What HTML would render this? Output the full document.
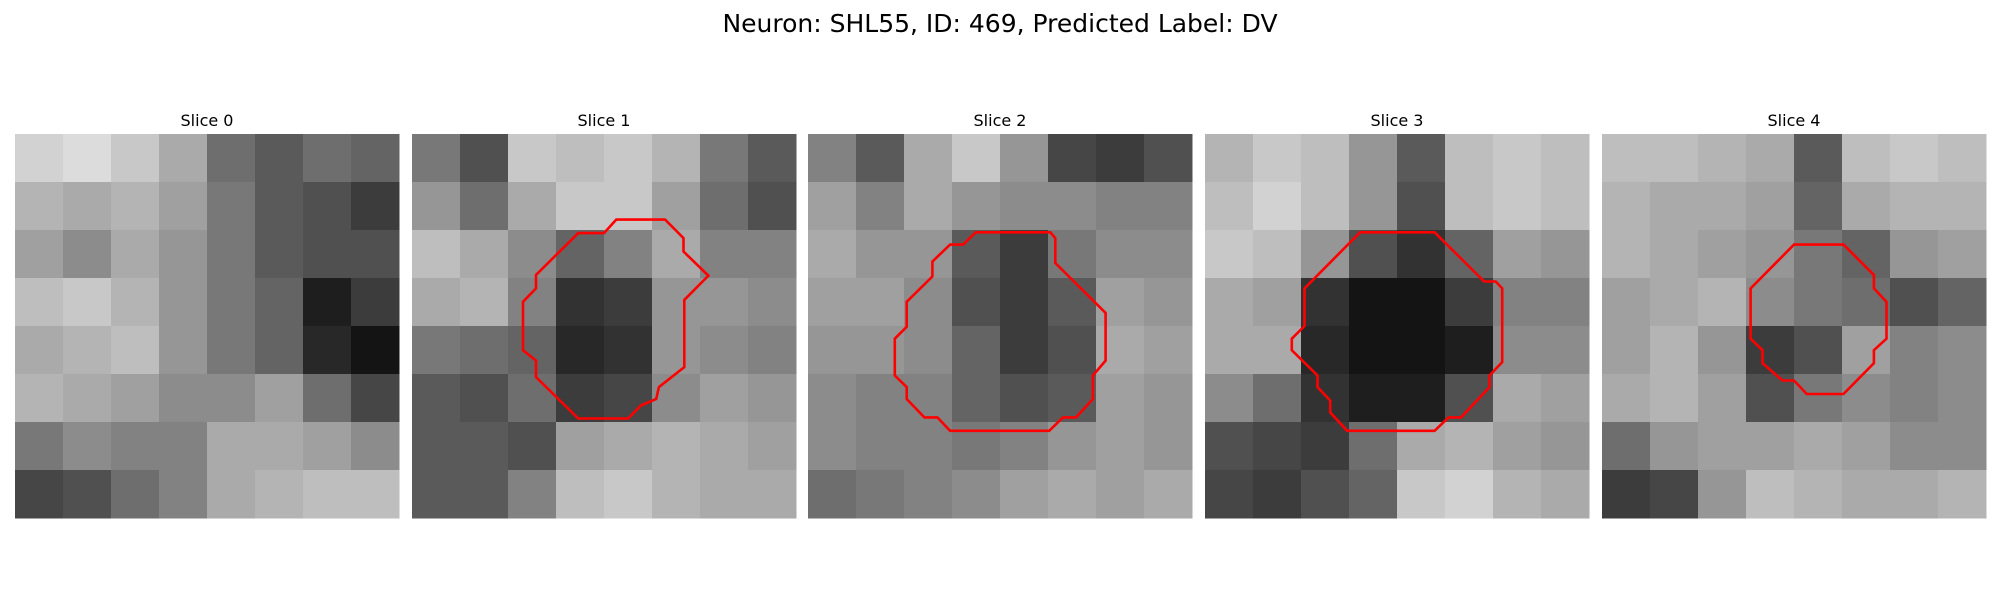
<!DOCTYPE html>
<html><head><meta charset="utf-8">
<style>
html,body{margin:0;padding:0;background:#fff;}
#wrap{position:relative;width:2000px;height:600px;overflow:hidden;}
svg{position:absolute;left:0;top:0;}
text{font-family:"DejaVu Sans","Liberation Sans",sans-serif;fill:#000;}
</style></head>
<body>
<div id="wrap">
<svg id="fig" width="2000" height="600" viewBox="0 0 2000 600" shape-rendering="crispEdges">
<text x="1000" y="32" text-anchor="middle" font-size="25">Neuron: SHL55, ID: 469, Predicted Label: DV</text>
</svg>
</div>
<script>
const sliceTitles = ["Slice 0","Slice 1","Slice 2","Slice 3","Slice 4"];
const slice0 = [
[210,220,200,170,110,90,110,100],
[180,170,180,160,120,90,80,60],
[160,140,170,150,120,90,80,80],
[190,200,180,150,120,100,30,60],
[170,180,190,150,120,100,40,20],
[180,170,160,140,140,160,110,70],
[120,140,130,130,170,170,160,140],
[70,80,110,130,170,180,190,190]];
const slice1 = [
[120,80,200,190,200,180,120,90],
[150,110,170,200,200,160,110,80],
[190,170,140,100,130,170,130,130],
[170,180,130,50,60,150,150,140],
[120,110,100,40,50,150,140,130],
[90,80,110,60,70,140,160,150],
[90,90,80,160,170,180,170,160],
[90,90,130,190,200,180,170,170]];
const slice2 = [
[130,90,170,200,150,70,60,80],
[160,130,170,150,140,140,130,130],
[170,150,150,90,60,120,140,140],
[160,160,140,80,60,90,160,150],
[150,150,140,100,60,80,170,160],
[140,130,130,100,80,90,160,150],
[140,130,130,120,130,150,160,150],
[110,120,130,140,160,170,160,170]];
const slice3 = [
[180,200,190,150,90,190,200,190],
[190,210,190,150,80,190,200,190],
[200,190,150,80,50,100,160,150],
[170,160,50,20,20,60,130,130],
[170,170,40,20,20,30,140,140],
[140,110,50,30,30,80,170,160],
[80,70,60,110,170,180,160,150],
[70,60,80,100,200,210,180,170]];
const slice4 = [
[190,190,180,170,90,190,200,190],
[180,170,170,160,100,170,180,180],
[180,170,160,150,120,100,150,160],
[160,170,180,140,120,110,80,100],
[160,180,150,60,80,160,130,140],
[170,180,160,80,120,140,130,140],
[110,150,160,160,170,160,140,140],
[60,70,150,190,180,170,170,180]];
const contour1 = [[0.532,0.223],[0.659,0.223],[0.707,0.271],[0.707,0.306],[0.772,0.369],[0.709,0.432],[0.709,0.607],[0.643,0.659],[0.636,0.690],[0.596,0.707],[0.563,0.741],[0.433,0.741],[0.323,0.633],[0.323,0.590],[0.289,0.563],[0.289,0.437],[0.323,0.402],[0.323,0.367],[0.433,0.258],[0.500,0.258]];
const contour2 = [[0.437,0.256],[0.631,0.256],[0.644,0.271],[0.644,0.336],[0.775,0.466],[0.775,0.590],[0.742,0.629],[0.742,0.690],[0.698,0.738],[0.664,0.738],[0.628,0.773],[0.370,0.773],[0.337,0.738],[0.303,0.738],[0.257,0.690],[0.257,0.659],[0.226,0.629],[0.226,0.533],[0.257,0.502],[0.257,0.437],[0.324,0.371],[0.324,0.332],[0.370,0.288],[0.404,0.288]];
const contour3 = [[0.404,0.256],[0.598,0.256],[0.727,0.384],[0.757,0.384],[0.774,0.402],[0.774,0.594],[0.741,0.629],[0.741,0.659],[0.667,0.738],[0.634,0.738],[0.598,0.773],[0.370,0.773],[0.326,0.725],[0.326,0.694],[0.293,0.659],[0.293,0.629],[0.226,0.563],[0.226,0.533],[0.259,0.500],[0.259,0.402]];
const contour4 = [[0.500,0.288],[0.629,0.288],[0.708,0.367],[0.708,0.402],[0.741,0.437],[0.741,0.533],[0.708,0.563],[0.708,0.597],[0.629,0.677],[0.533,0.677],[0.500,0.642],[0.470,0.642],[0.418,0.597],[0.418,0.563],[0.387,0.533],[0.387,0.402]];

const grids = [slice0,slice1,slice2,slice3,slice4];
const contours = [null,contour1,contour2,contour3,contour4];
const NS='http://www.w3.org/2000/svg';
const svg=document.getElementById('fig');
const panelX=[15,412,808,1205,1602], panelY=134, panelS=384;
grids.forEach((g,i)=>{
  const gEl=document.createElementNS(NS,'g');
  
  
  const n=g.length, cs=panelS/n;
  g.forEach((row,r)=>row.forEach((v,c)=>{
    const rc=document.createElementNS(NS,'rect');
    
    
    rc.setAttribute('x',panelX[i]+c*cs);
    rc.setAttribute('y',panelY+r*cs);
    rc.setAttribute('width',cs+0.5);
    rc.setAttribute('height',cs+0.5);
    rc.setAttribute('fill',`rgb(${v},${v},${v})`);
    gEl.appendChild(rc);
  }));
  const t=document.createElementNS(NS,'text');
  
  
  t.setAttribute('x',panelX[i]+panelS/2);
  t.setAttribute('y',126);
  t.setAttribute('text-anchor','middle');
  t.setAttribute('font-size','16');
  t.textContent=sliceTitles[i];
  gEl.appendChild(t);
  if(contours[i]){
    const p=document.createElementNS(NS,'polygon');
    
    
    p.setAttribute('points',contours[i].map(q=>(panelX[i]+q[0]*panelS).toFixed(1)+','+(panelY+q[1]*panelS).toFixed(1)).join(' '));
    p.setAttribute('fill','none');
    p.setAttribute('stroke','#ff0000');
    p.setAttribute('stroke-width','2.6');
    p.setAttribute('shape-rendering','geometricPrecision');
    gEl.appendChild(p);
  }
  svg.appendChild(gEl);
});
</script>
</body></html>
